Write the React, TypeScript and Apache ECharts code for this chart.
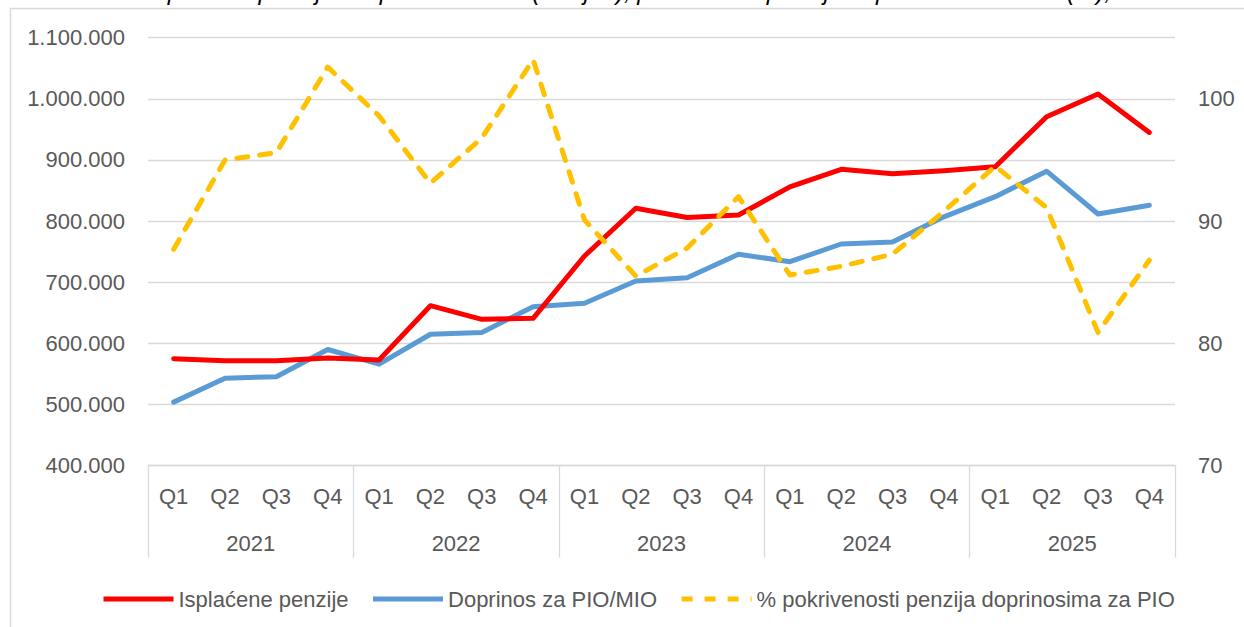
import React, { useEffect, useRef } from 'react';
import * as echarts from 'echarts';

const quarters = ['Q1','Q2','Q3','Q4','Q1','Q2','Q3','Q4','Q1','Q2','Q3','Q4','Q1','Q2','Q3','Q4','Q1','Q2','Q3','Q4'];
const years = ['2021', '2022', '2023', '2024', '2025'];
const isplacenePenzije = [575000, 571700, 571700, 576000, 573000, 661700, 639400, 641000, 743000, 821000, 806000, 810000, 856000, 884800, 877600, 882500, 889000, 970800, 1008000, 945000];
const doprinosPIO = [504000, 543000, 545600, 590000, 566000, 615000, 618000, 660000, 665600, 702000, 707500, 745800, 733700, 762600, 766000, 807000, 840000, 881700, 811700, 826000];
const pokrivenost = [87.7, 95.0, 95.6, 102.6, 98.6, 93.1, 96.8, 103.2, 90.1, 85.5, 87.8, 92.0, 85.6, 86.3, 87.3, 90.8, 94.5, 91.1, 80.9, 86.8];
const seriesNames = ['Isplaćene penzije', 'Doprinos za PIO/MIO', '% pokrivenosti penzija doprinosima za PIO'];
const titleText = 'Isplaćene penzije i doprinos za PIO (u hilj. €), pokrivenost penzija doprinosima za PIO (%), 2021-2025';

const FONT = '"Liberation Sans", Arial, sans-serif';
const GRAY = '#595959';
const GRID = '#d9d9d9';
const FS = 22;

const fmt = (v: number) => String(v).replace(/\B(?=(\d{3})+(?!\d))/g, '.');

export default function App() {
  const ref = useRef<HTMLDivElement>(null);
  useEffect(() => {
    if (!ref.current) return;
    const chart = echarts.init(ref.current, undefined, { renderer: 'svg' });
    chart.setOption({
      animation: false,
      backgroundColor: '#ffffff',
      textStyle: { fontFamily: FONT },
      grid: { left: 148, right: 69, top: 37.7, bottom: 161.3 },
      legend: {
        data: seriesNames,
        left: 101,
        top: 588,
        padding: 0,
        itemWidth: 70,
        itemHeight: 14,
        itemGap: 22,
        itemStyle: { opacity: 0 },
        lineStyle: { width: 5, cap: 'butt' },
        textStyle: { fontSize: FS, color: GRAY, fontFamily: FONT },
      },
      xAxis: [
        {
          type: 'category',
          data: quarters,
          gridIndex: 0,
          position: 'bottom',
          axisLine: { show: true, lineStyle: { color: GRID, width: 1.3 } },
          axisTick: { show: false },
          axisLabel: { fontSize: FS, color: GRAY, margin: 20, interval: 0, fontFamily: FONT },
          splitLine: { show: false },
        },
        {
          type: 'category',
          data: years,
          gridIndex: 0,
          position: 'bottom',
          axisLine: { show: false },
          axisTick: { show: true, length: 92, lineStyle: { color: GRID, width: 1.3 } },
          axisLabel: { fontSize: FS, color: GRAY, margin: 67, interval: 0, fontFamily: FONT },
          splitLine: { show: false },
        },
      ],
      yAxis: [
        {
          type: 'value',
          min: 400000,
          max: 1100000,
          interval: 100000,
          axisLine: { show: false },
          axisTick: { show: false },
          axisLabel: { fontSize: FS, color: GRAY, margin: 23, formatter: fmt, fontFamily: FONT },
          splitLine: { show: true, lineStyle: { color: GRID, width: 1.3 } },
        },
        {
          type: 'value',
          min: 70,
          max: 105,
          interval: 10,
          axisLine: { show: false },
          axisTick: { show: false },
          axisLabel: { fontSize: FS, color: GRAY, margin: 23, showMaxLabel: false, fontFamily: FONT },
          splitLine: { show: false },
        },
      ],
      series: [
        {
          name: seriesNames[0],
          type: 'line',
          data: isplacenePenzije,
          xAxisIndex: 0,
          yAxisIndex: 0,
          symbol: 'none',
          lineStyle: { color: '#ff0000', width: 5, cap: 'round', join: 'round' },
          itemStyle: { color: '#ff0000' },
          z: 3,
        },
        {
          name: seriesNames[1],
          type: 'line',
          data: doprinosPIO,
          xAxisIndex: 0,
          yAxisIndex: 0,
          symbol: 'none',
          lineStyle: { color: '#5b9bd5', width: 5, cap: 'round', join: 'round' },
          itemStyle: { color: '#5b9bd5' },
          z: 2,
        },
        {
          name: seriesNames[2],
          type: 'line',
          data: pokrivenost,
          xAxisIndex: 0,
          yAxisIndex: 1,
          symbol: 'none',
          lineStyle: { color: '#ffc000', width: 5, type: [11, 12], cap: 'round', join: 'round' },
          itemStyle: { color: '#ffc000' },
          z: 4,
        },
      ],
      graphic: [
        {
          type: 'rect',
          silent: true,
          z: -1,
          shape: { x: 10.5, y: 8.5, width: 1400, height: 800 },
          style: { fill: 'none', stroke: GRID, lineWidth: 1.5 },
        },
        {
          type: 'text',
          silent: true,
          x: 149,
          y: 3,
          style: {
            text: titleText,
            fontSize: 24,
            fontStyle: 'italic',
            fontFamily: FONT,
            fill: '#000000',
            verticalAlign: 'bottom',
          },
        },
      ],
    });
    return () => chart.dispose();
  }, []);
  return (
    <div
      ref={ref}
      style={{ position: 'absolute', left: 0, top: 0, width: 1244, height: 627, background: '#fff' }}
    />
  );
}
